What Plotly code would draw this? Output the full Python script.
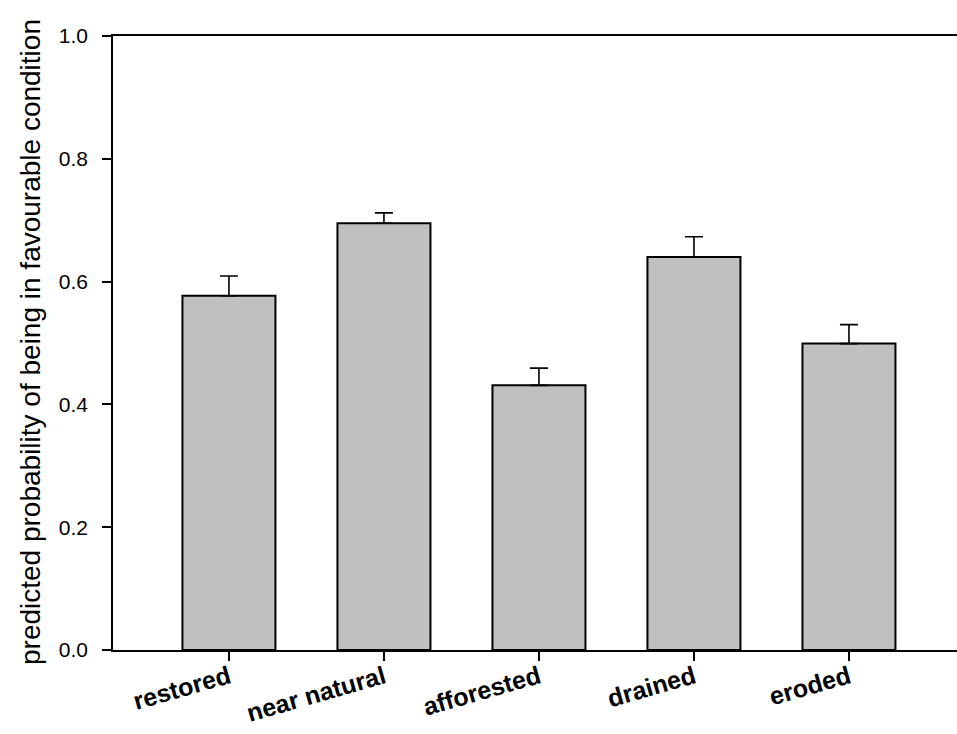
import plotly.graph_objects as go

categories = ["restored", "near natural", "afforested", "drained", "eroded"]
values = [0.577, 0.695, 0.431, 0.640, 0.499]
errors = [0.032, 0.017, 0.028, 0.033, 0.031]
y_ticks = [0.0, 0.2, 0.4, 0.6, 0.8, 1.0]
y_tick_labels = ["0.0", "0.2", "0.4", "0.6", "0.8", "1.0"]
y_title = "predicted probability of being in favourable condition"

W, H = 957, 734
L, R, T, B = 113, 0, 36, 84
plot_w = W - L - R

fig = go.Figure()
fig.add_trace(go.Bar(
    x=list(range(len(categories))),
    y=values,
    width=0.6,
    marker=dict(color="#c0c0c0", line=dict(color="black", width=2)),
    error_y=dict(type="data", array=errors, arrayminus=[0] * len(errors),
                 symmetric=False, color="black", thickness=1.6, width=9),
    showlegend=False,
))

fig.update_layout(
    width=W, height=H,
    margin=dict(l=L, r=R, t=T, b=B, pad=0),
    paper_bgcolor="white", plot_bgcolor="white",
    font=dict(family="Liberation Sans, Arial, sans-serif", color="black"),
    xaxis=dict(
        range=[-0.748, 4.697],
        tickmode="array",
        tickvals=list(range(len(categories))),
        ticktext=categories,
        tickangle=-16,
        tickfont=dict(size=25, family="Liberation Sans, Arial, sans-serif", weight="bold"),
        ticks="outside", ticklen=9, tickwidth=1.5, tickcolor="black",
        showline=True, linecolor="black", linewidth=2, mirror=True,
        showgrid=False, zeroline=False,
        ticklabelstandoff=-8,
        automargin=False,
    ),
    yaxis=dict(
        range=[0, 1],
        tickmode="array",
        tickvals=y_ticks,
        ticktext=y_tick_labels,
        tickfont=dict(size=21),
        ticks="outside", ticklen=9, tickwidth=1.5, tickcolor="black",
        showline=True, linecolor="black", linewidth=1.5,
        showgrid=False, zeroline=False,
        ticklabelstandoff=10,
        automargin=False,
    ),
    annotations=[dict(
        text=y_title, textangle=-90, showarrow=False,
        xref="paper", yref="paper",
        x=(30 - L) / plot_w, y=(650 - 342) / 614,
        xanchor="center", yanchor="middle",
        font=dict(size=28),
    )],
)

fig.write_html("out.html")
